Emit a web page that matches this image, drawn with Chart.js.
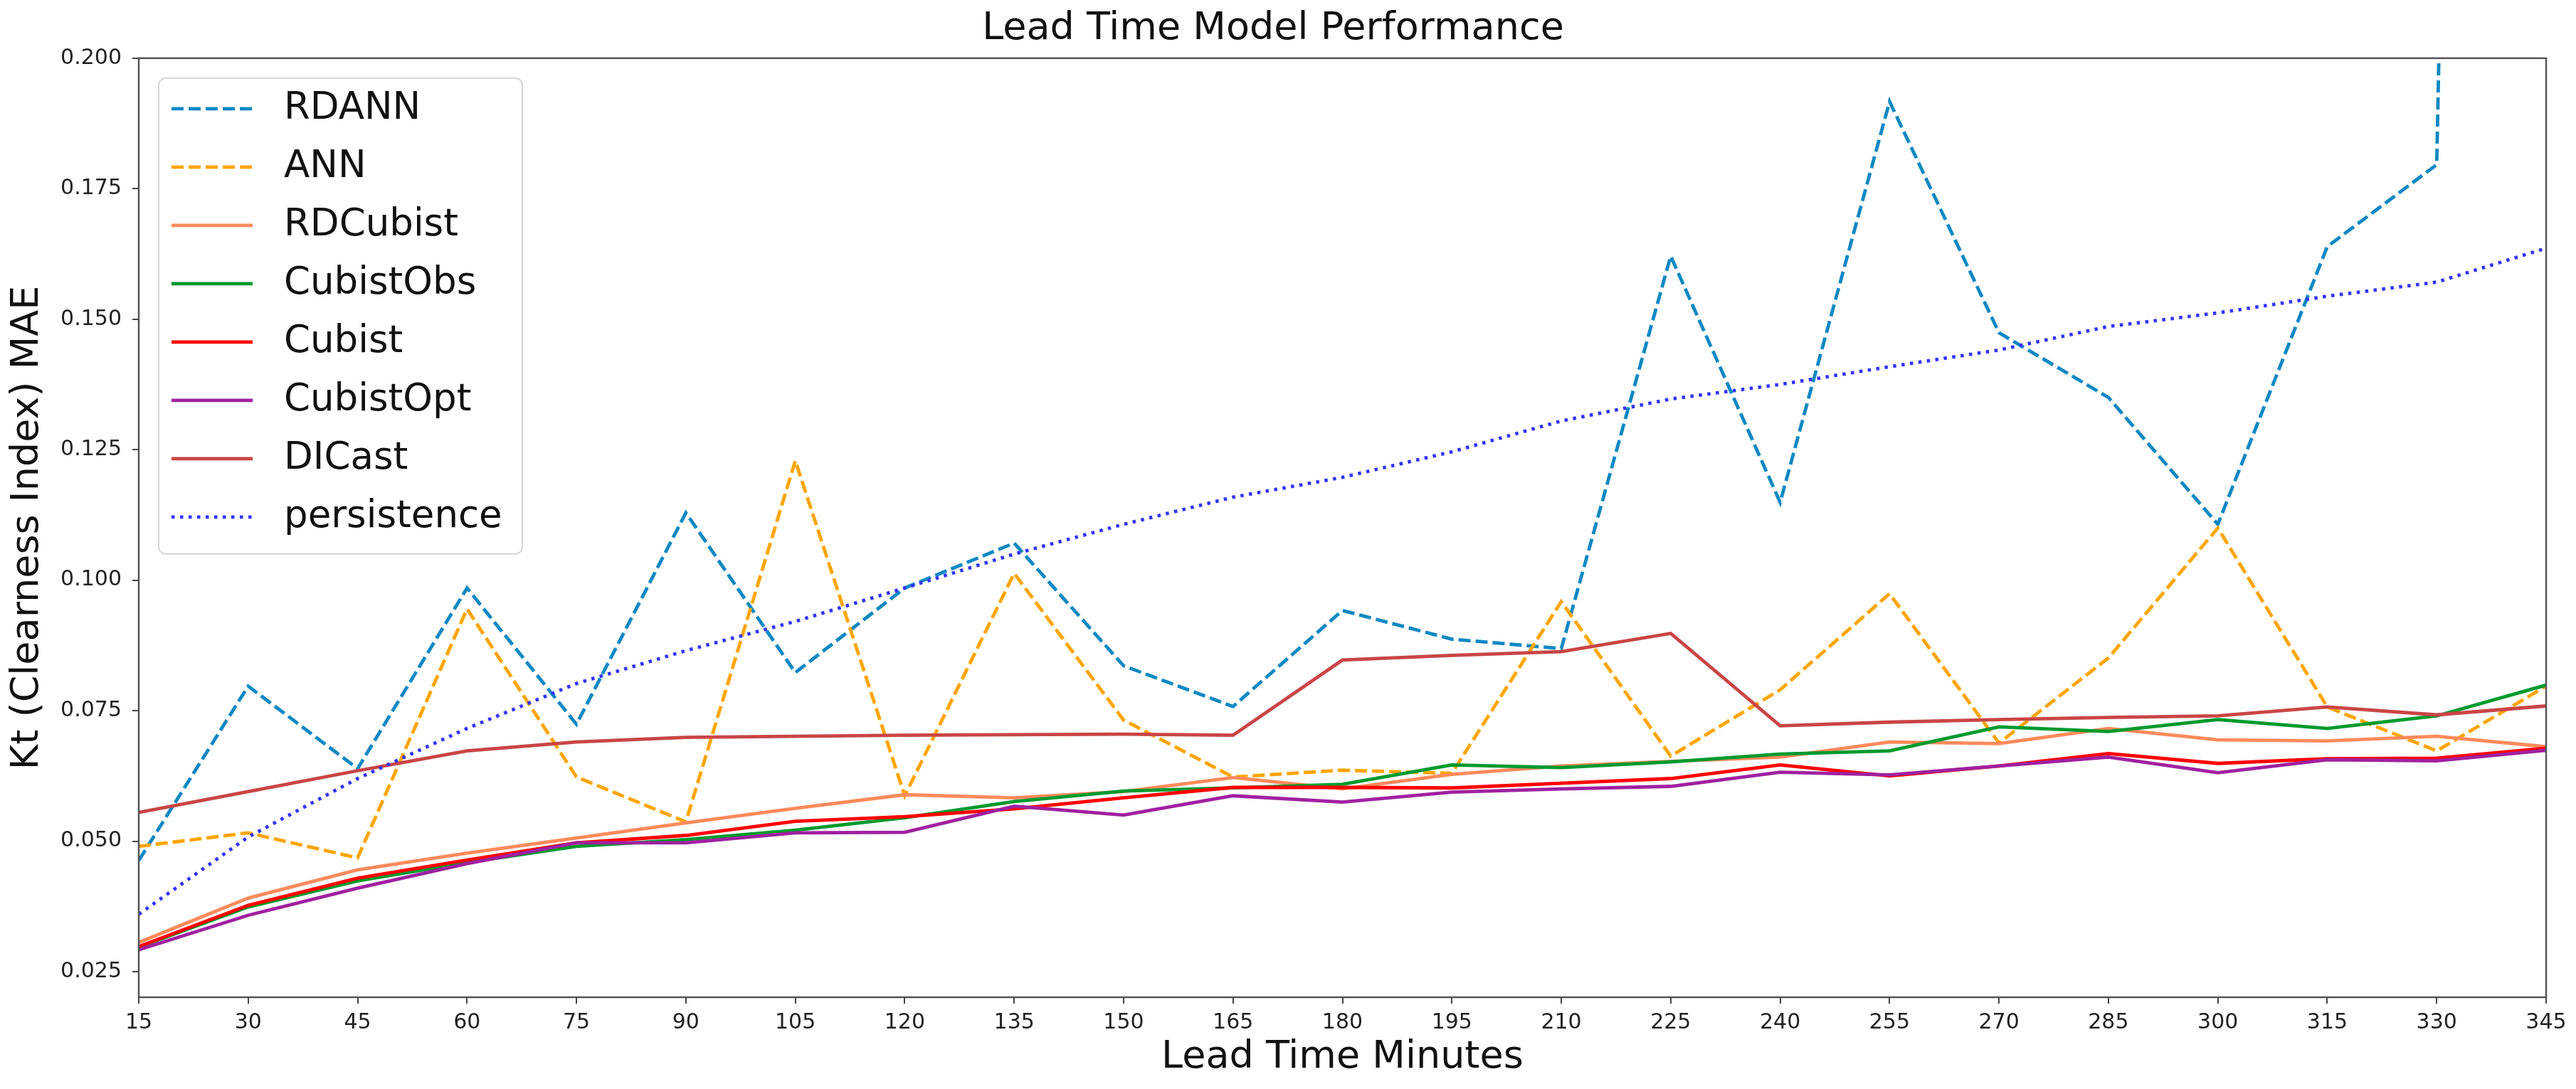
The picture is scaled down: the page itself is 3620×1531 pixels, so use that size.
<!DOCTYPE html>
<html>
<head>
<meta charset="utf-8">
<script src="https://cdn.jsdelivr.net/npm/chart.js@4.4.1/dist/chart.umd.min.js"></script>
<style>
    html, body { margin: 0; padding: 0; background: #fff; }
</style>
</head>
<body>
<canvas id="myChart-lead" width="3620" height="1531"></canvas>
<script>
var leadTimes = [15, 30, 45, 60, 75, 90, 105, 120, 135, 150, 165, 180, 195, 210, 225, 240, 255, 270, 285, 300, 315, 330, 345];
var yTicks = [0.025, 0.050, 0.075, 0.100, 0.125, 0.150, 0.175, 0.200];

var rdann = [0.0463, 0.0797, 0.0639, 0.0985, 0.0724, 0.1129, 0.0823, 0.0985, 0.1071, 0.0836, 0.0758, 0.0942, 0.0887, 0.0869, 0.1621, 0.1149, 0.1917, 0.1474, 0.1350, 0.1107, 0.1639, 0.1796, 1.2];
var ann = [0.0490, 0.0516, 0.0468, 0.0945, 0.0623, 0.0537, 0.1229, 0.0587, 0.1013, 0.0732, 0.0623, 0.0636, 0.0630, 0.0959, 0.0663, 0.0790, 0.0974, 0.0688, 0.0851, 0.1100, 0.0757, 0.0673, 0.0797];
var rdCubist = [0.0306, 0.0391, 0.0445, 0.0477, 0.0506, 0.0535, 0.0563, 0.0589, 0.0583, 0.0595, 0.0622, 0.0600, 0.0628, 0.0644, 0.0653, 0.0661, 0.0690, 0.0687, 0.0716, 0.0694, 0.0692, 0.0701, 0.0681];
var cubistObs = [0.0297, 0.0374, 0.0424, 0.0459, 0.0490, 0.0503, 0.0521, 0.0545, 0.0576, 0.0596, 0.0602, 0.0609, 0.0646, 0.0641, 0.0652, 0.0667, 0.0673, 0.0719, 0.0710, 0.0733, 0.0716, 0.0740, 0.0799];
var cubist = [0.0298, 0.0377, 0.0429, 0.0464, 0.0497, 0.0511, 0.0538, 0.0547, 0.0562, 0.0583, 0.0603, 0.0603, 0.0602, 0.0611, 0.0620, 0.0646, 0.0625, 0.0644, 0.0668, 0.0649, 0.0658, 0.0659, 0.0678];
var cubistOpt = [0.0292, 0.0358, 0.0410, 0.0457, 0.0497, 0.0497, 0.0516, 0.0517, 0.0567, 0.0550, 0.0587, 0.0575, 0.0594, 0.0600, 0.0605, 0.0632, 0.0627, 0.0644, 0.0661, 0.0631, 0.0656, 0.0654, 0.0674];
var diCast = [0.0555, 0.0595, 0.0635, 0.0673, 0.0690, 0.0699, 0.0701, 0.0703, 0.0704, 0.0705, 0.0703, 0.0847, 0.0856, 0.0863, 0.0898, 0.0721, 0.0728, 0.0733, 0.0737, 0.0740, 0.0757, 0.0742, 0.0759];
var persistence = [0.0360, 0.0508, 0.0620, 0.0716, 0.0802, 0.0865, 0.0921, 0.0985, 0.1050, 0.1107, 0.1159, 0.1197, 0.1246, 0.1305, 0.1347, 0.1375, 0.1409, 0.1441, 0.1486, 0.1512, 0.1544, 0.1571, 0.1636];

var FONT = "'DejaVu Sans', sans-serif";
var LW = 4.8;

function serie(label, data, color, dash, order) {
    return {
        label: label,
        data: data,
        borderColor: color,
        backgroundColor: color,
        borderWidth: LW,
        borderDash: dash,
        borderCapStyle: 'butt',
        pointRadius: 0,
        pointHoverRadius: 0,
        fill: false,
        tension: 0,
        clip: 0,
        order: order
    };
}

//========== legend box + frame (matplotlib style)
var boxLegend = {
    id: 'boxLegend',
    afterDraw: function (chart) {
        var ctx = chart.ctx,
            area = chart.chartArea;

        ctx.save();
        ctx.setLineDash([]);
        ctx.strokeStyle = '#555';
        ctx.lineWidth = 2.5;
        ctx.strokeRect(area.left, area.top, area.right - area.left, area.bottom - area.top);

        var x0 = area.left + 28,
            y0 = area.top + 28,
            w = 511,
            h = 669;
        ctx.beginPath();
        ctx.roundRect(x0, y0, w, h, 10);
        ctx.fillStyle = 'rgba(255,255,255,0.8)';
        ctx.fill();
        ctx.strokeStyle = '#d5d5d5';
        ctx.lineWidth = 2;
        ctx.stroke();

        ctx.font = '53px ' + FONT;
        ctx.textBaseline = 'middle';
        ctx.textAlign = 'left';
        chart.data.datasets.forEach(function (ds, i) {
            var cy = y0 + 43 + i * 82;
            ctx.beginPath();
            ctx.strokeStyle = ds.borderColor;
            ctx.lineWidth = ds.borderWidth;
            ctx.lineCap = 'butt';
            ctx.setLineDash(ds.borderDash);
            ctx.moveTo(x0 + 18, cy);
            ctx.lineTo(x0 + 132, cy);
            ctx.stroke();
            ctx.setLineDash([]);
            ctx.fillStyle = '#111';
            ctx.fillText(ds.label, x0 + 176, cy);
        });
        ctx.restore();
    }
};

var chartLead = document.getElementById('myChart-lead');
new Chart(chartLead, {
    type: 'line',
    plugins: [boxLegend],
    data: {
        labels: leadTimes,
        datasets: [
            serie('RDANN', rdann, '#0e88c2', [17, 7], 8),
            serie('ANN', ann, '#ffa500', [17, 7], 7),
            serie('RDCubist', rdCubist, '#ff8a5c', [], 6),
            serie('CubistObs', cubistObs, '#009a2e', [], 5),
            serie('Cubist', cubist, '#ff0000', [], 4),
            serie('CubistOpt', cubistOpt, '#a020a0', [], 3),
            serie('DICast', diCast, '#c94545', [], 2),
            serie('persistence', persistence, '#3333ff', [4.5, 7.5], 1)
        ]
    },
    options: {
        responsive: false,
        animation: false,
        devicePixelRatio: 1,
        layout: {
            padding: { left: 0, right: 42, top: 0, bottom: 0 }
        },
        plugins: {
            legend: { display: false },
            tooltip: { enabled: false },
            title: {
                display: true,
                text: 'Lead Time Model Performance',
                color: '#111',
                font: { family: FONT, size: 54, weight: 'normal', lineHeight: 1.2 },
                padding: { top: 9, bottom: 8 }
            }
        },
        scales: {
            x: {
                type: 'category',
                offset: false,
                border: { display: false },
                grid: { drawOnChartArea: false, drawTicks: true, tickLength: 9, color: '#444', lineWidth: 2 },
                ticks: {
                    autoSkip: false,
                    maxRotation: 0,
                    padding: 9,
                    color: '#222',
                    font: { family: FONT, size: 30 }
                },
                title: {
                    display: true,
                    text: 'Lead Time Minutes',
                    color: '#111',
                    font: { family: FONT, size: 54, lineHeight: 1.2 },
                    padding: { top: 0, bottom: 12 }
                },
                afterFit: function (scale) { scale.height = 129; }
            },
            y: {
                type: 'linear',
                min: 0.0201,
                max: 0.2,
                border: { display: false },
                grid: { drawOnChartArea: false, drawTicks: true, tickLength: 9, color: '#444', lineWidth: 2 },
                afterBuildTicks: function (scale) {
                    scale.ticks = yTicks.map(function (v) { return { value: v }; });
                },
                ticks: {
                    padding: 15,
                    color: '#222',
                    font: { family: FONT, size: 30 },
                    callback: function (v) { return Number(v).toFixed(3); }
                },
                title: {
                    display: true,
                    text: 'Kt (Clearness Index) MAE',
                    color: '#111',
                    font: { family: FONT, size: 54, lineHeight: 1.2 },
                    padding: { top: 7, bottom: 0 }
                },
                afterFit: function (scale) { scale.width = 195; }
            }
        }
    }
});
</script>
</body>
</html>
